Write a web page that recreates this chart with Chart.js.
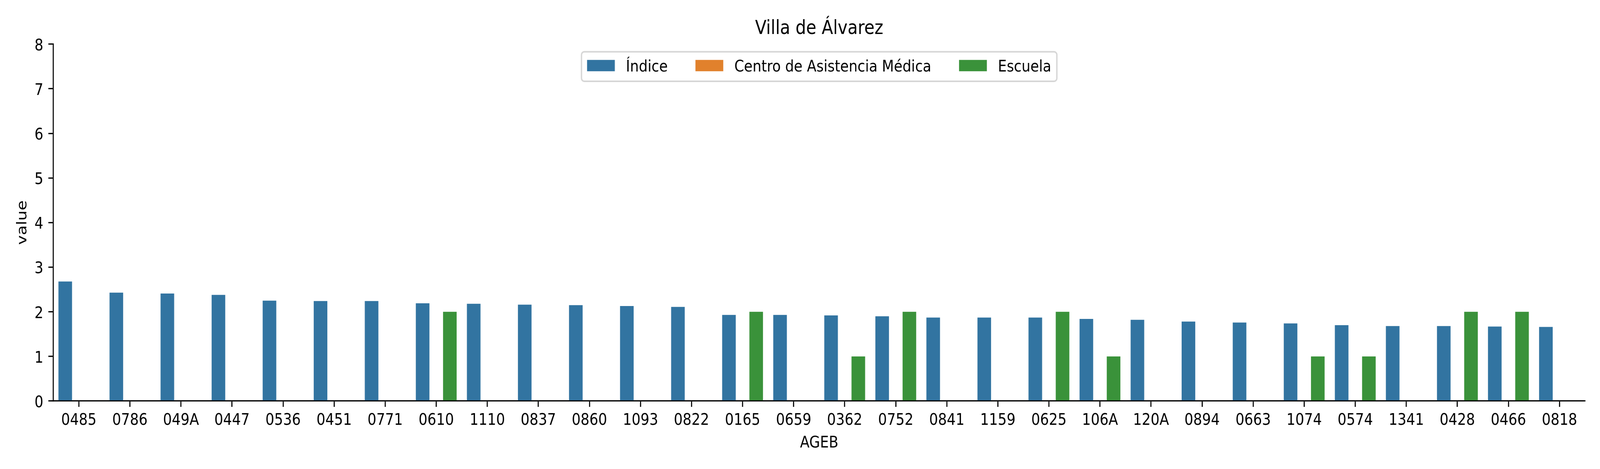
<!DOCTYPE html>
<html>
<head>
<meta charset="utf-8">
<script src="https://cdn.jsdelivr.net/npm/chart.js@4.4.1/dist/chart.umd.min.js"></script>
<style>
html,body{margin:0;padding:0;background:#ffffff;overflow:hidden;}
#wrap{position:absolute;left:0;top:0;width:4800px;height:1200px;transform-origin:0 0;}
canvas{display:block;}
</style>
</head>
<body>
<div id="wrap"><canvas id="c" width="4800" height="1200"></canvas></div>
<script>
const titleText = "Villa de Álvarez";
const xAxisTitle = "AGEB";
const yAxisTitle = "value";
const categories = ["0485","0786","049A","0447","0536","0451","0771","0610","1110","0837",
  "0860","1093","0822","0165","0659","0362","0752","0841","1159","0625",
  "106A","120A","0894","0663","1074","0574","1341","0428","0466","0818"];
const indice = [2.68,2.43,2.41,2.38,2.25,2.24,2.24,2.19,2.18,2.16,
  2.15,2.13,2.11,1.93,1.93,1.92,1.90,1.87,1.87,1.87,
  1.84,1.82,1.78,1.76,1.74,1.70,1.68,1.68,1.67,1.66];
const centroMedico = [0,0,0,0,0,0,0,0,0,0,
  0,0,0,0,0,0,0,0,0,0,
  0,0,0,0,0,0,0,0,0,0];
const escuela = [0,0,0,0,0,0,0,2,0,0,
  0,0,0,2,0,1,2,0,0,2,
  1,0,0,0,1,1,0,2,2,0];
const yTicks = [0,1,2,3,4,5,6,7,8];

// the design is 4800x1200; fit it into the actual viewport
document.getElementById('wrap').style.transform =
  'scale(' + (window.innerWidth / 4800) + ',' + (window.innerHeight / 1200) + ')';

const FONT = "DejaVu Sans";
const FS = 41.67;

const overlay = {
  id: 'overlay',
  afterDraw(chart) {
    const ctx = chart.ctx;
    const a = chart.chartArea;
    const cx = (a.left + a.right) / 2;
    ctx.save();
    // title
    ctx.fillStyle = '#000';
    ctx.font = '50px "' + FONT + '"';
    ctx.textAlign = 'center';
    ctx.textBaseline = 'alphabetic';
    ctx.fillText(titleText, cx, 87);
    // legend (upper center, three columns)
    ctx.font = FS + 'px "' + FONT + '"';
    const items = chart.data.datasets.map(d => ({label: d.label, color: d.backgroundColor}));
    const hl = 2 * FS, tp = 0.8 * FS, cs = 2 * FS, bp = 0.4 * FS;
    const widths = items.map(it => ctx.measureText(it.label).width);
    let inner = 0;
    items.forEach((it, i) => { inner += hl + tp + widths[i]; if (i < items.length - 1) inner += cs; });
    const W = inner + 2 * bp, H = 75.5;
    const x0 = cx - W / 2, y0 = 132.5;
    const r = 8;
    ctx.beginPath();
    ctx.moveTo(x0 + r, y0);
    ctx.lineTo(x0 + W - r, y0);
    ctx.arcTo(x0 + W, y0, x0 + W, y0 + r, r);
    ctx.lineTo(x0 + W, y0 + H - r);
    ctx.arcTo(x0 + W, y0 + H, x0 + W - r, y0 + H, r);
    ctx.lineTo(x0 + r, y0 + H);
    ctx.arcTo(x0, y0 + H, x0, y0 + H - r, r);
    ctx.lineTo(x0, y0 + r);
    ctx.arcTo(x0, y0, x0 + r, y0, r);
    ctx.closePath();
    ctx.fillStyle = 'rgba(255,255,255,0.8)';
    ctx.fill();
    ctx.strokeStyle = 'rgba(204,204,204,0.8)';
    ctx.lineWidth = 4;
    ctx.stroke();
    let x = x0 + bp;
    ctx.textAlign = 'left';
    items.forEach((it, i) => {
      ctx.fillStyle = it.color;
      ctx.fillRect(x, 153.3, hl, 29);
      x += hl + tp;
      ctx.fillStyle = '#000';
      ctx.fillText(it.label, x, 183.3);
      x += widths[i] + cs;
    });
    ctx.restore();
  }
};

const axisGrid = {display: true, drawOnChartArea: false, drawTicks: true, tickLength: 15, lineWidth: 3.3, color: '#000'};

new Chart(document.getElementById('c'), {
  type: 'bar',
  data: {
    labels: categories,
    datasets: [
      {label: 'Índice', data: indice, backgroundColor: '#3274a1'},
      {label: 'Centro de Asistencia Médica', data: centroMedico, backgroundColor: '#e1812c'},
      {label: 'Escuela', data: escuela, backgroundColor: '#3a923a'}
    ]
  },
  options: {
    responsive: false,
    animation: false,
    devicePixelRatio: 1,
    datasets: {bar: {categoryPercentage: 0.8, barPercentage: 1.0, borderWidth: 0}},
    layout: {padding: {left: 0, right: 45, top: 113, bottom: 0}},
    plugins: {legend: {display: false}, title: {display: false}, tooltip: {enabled: false}},
    scales: {
      x: {
        grid: Object.assign({}, axisGrid, {offset: false}),
        border: {display: true, color: '#000', width: 3.3},
        ticks: {color: '#000', font: {family: FONT, size: FS}, padding: 10.5, maxRotation: 0, autoSkip: false},
        title: {display: true, text: xAxisTitle, color: '#000', font: {family: FONT, size: FS}, padding: {top: 0, bottom: 41}},
        afterFit(s) { s.height = 174; }
      },
      y: {
        min: 0, max: 8,
        afterBuildTicks(s) { s.ticks = yTicks.map(v => ({value: v})); },
        grid: axisGrid,
        border: {display: true, color: '#000', width: 3.3},
        ticks: {color: '#000', font: {family: FONT, size: FS}, padding: 15, labelOffset: 5},
        title: {display: true, text: yAxisTitle, color: '#000', font: {family: FONT, size: FS}, padding: {top: 43.6, bottom: 0}},
        afterFit(s) { s.width = 160; }
      }
    }
  },
  plugins: [overlay]
});
</script>
</body>
</html>
